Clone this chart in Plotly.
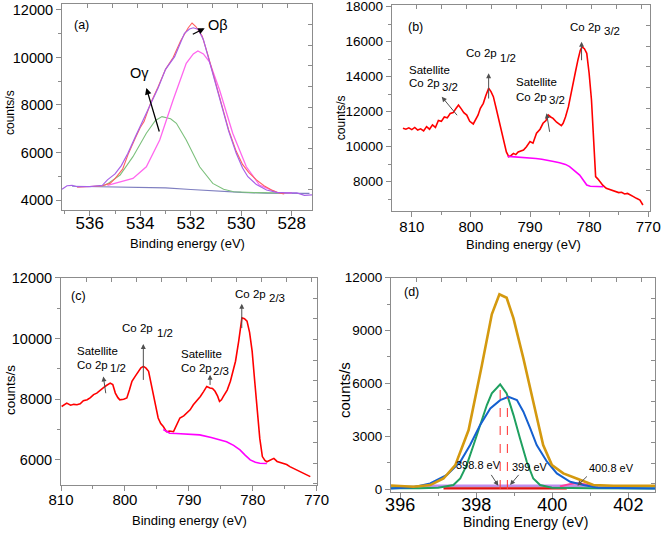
import plotly.graph_objects as go

# ---------------- Panel (a): O 1s ----------------
a_raw_be = [536.5, 536.2, 535.8, 535.5, 535.2, 535.0, 534.7, 534.49, 534.2, 534.0, 533.85, 533.6, 533.3, 533.0,
            532.7, 532.4, 532.1, 531.95, 531.8, 531.55, 531.32, 531.05, 530.8, 530.5, 530.2, 529.95, 529.7,
            529.4, 529.1, 528.8, 528.5, 528.3]
a_raw_cps = [4540, 4560, 4570, 4600, 4700, 4900, 5300, 5900, 6600, 7050, 7300, 8050, 8750, 9500,
             10000, 10700, 11250, 11450, 11300, 10900, 10100, 9050, 8050, 6950, 6050, 5500, 5150,
             4850, 4600, 4420, 4300, 4260]
a_env_be = [537.1, 536.9, 536.7, 536.5, 536.0, 535.5, 535.3, 535.0, 534.75, 534.49, 534.2, 533.9, 533.6, 533.3,
            533.0, 532.64, 532.25, 532.05, 531.9, 531.7, 531.5, 531.32, 531.05, 530.8, 530.5, 530.2, 529.95,
            529.74, 529.4, 529.0, 528.6, 528.2, 527.8, 527.5, 527.2]
a_env_cps = [4450, 4600, 4620, 4560, 4560, 4620, 4850, 5100, 5450, 5965, 6650, 7330, 8000, 8700,
             9500, 10035, 11017, 11200, 11250, 11180, 10750, 10035, 9000, 8000, 6900, 5965, 5350,
             4982, 4650, 4420, 4320, 4300, 4300, 4200, 4220]
a_og_be = [535.5, 535.3, 534.8, 534.29, 533.76, 533.4, 533.14, 532.8, 532.57, 532.18, 531.65, 531.13, 530.7,
           530.3, 529.5, 528.0]
a_og_cps = [4590, 4680, 5050, 5825, 6810, 7350, 7510, 7420, 7230, 6526, 5400, 4700, 4450,
            4350, 4310, 4290]
a_ob_be = [535.3, 534.8, 534.29, 533.76, 533.23, 532.7, 532.18, 531.9, 531.72, 531.5, 531.26, 530.86, 530.34,
           529.8, 529.28, 528.6, 528.0]
a_ob_cps = [4620, 4750, 4910, 5400, 6526, 8210, 9750, 10150, 10270, 10150, 9820, 8630, 6810,
            5400, 4630, 4320, 4290]
a_bg_be = [536.7, 536.0, 535.0, 534.0, 533.0, 532.0, 531.0, 530.0, 529.0, 528.0, 527.3]
a_bg_cps = [4580, 4570, 4560, 4540, 4510, 4440, 4370, 4320, 4290, 4280, 4280]

# ---------------- Panel (b): Co 2p ----------------
b_be = [811.5, 811.0, 810.5, 810.0, 809.5, 809.0, 808.5, 808.0, 807.5, 807.0, 806.5, 806.0, 805.5, 805.0,
        804.5, 804.0, 803.5, 803.0, 802.5, 802.1, 801.6, 801.2, 800.7, 800.2, 799.6, 799.2, 798.8, 798.4,
        797.9, 797.5, 797.0, 796.6, 796.2, 795.8, 795.4, 795.0, 794.5, 794.0, 793.6, 793.2, 792.8, 792.4,
        792.0, 791.5, 791.1, 790.6, 790.0, 789.5, 788.9, 788.3, 787.8, 787.3, 786.9, 786.5, 786.1, 785.5,
        785.0, 784.7, 784.4, 784.0, 783.5, 783.1, 782.7, 782.3, 781.9, 781.5, 781.2, 780.8, 780.4, 780.0,
        779.6, 779.2, 778.9, 778.5, 778.2, 777.7, 777.1, 776.5, 776.0, 775.4, 775.0, 774.5, 774.0, 773.5,
        773.1, 772.5, 772.0, 771.4, 770.9]
b_cps = [11050, 11000, 11080, 10980, 11100, 10950, 11020, 10900, 11150, 11000, 11250, 11100, 11500, 11450,
         11700, 11650, 11900, 11950, 12200, 12380, 12150, 11950, 11810, 11450, 11300, 11550, 11800, 12200,
         12480, 12900, 13340, 13150, 12860, 12300, 11710, 11100, 10380, 9700, 9430, 9500, 9620, 9550,
         9700, 9750, 9810, 10000, 10290, 10200, 10770, 11000, 11340, 11500, 11810, 11700, 11620, 11400,
         11240, 11200, 11340, 11700, 12290, 12900, 13620, 14300, 14950, 15500, 15710, 15600, 15340, 14200,
         12670, 10500, 8290, 8150, 8000, 7800, 7620, 7550, 7480, 7430, 7380, 7400, 7300, 7330,
         7240, 7150, 7050, 6950, 6670]
b_bg_be = [793.8, 793.0, 792.0, 791.0, 790.0, 789.0, 788.0, 787.2, 786.0, 785.0, 784.0, 783.3, 782.5, 781.6,
           781.0, 780.4, 779.8, 779.0, 778.0, 777.6]
b_bg_cps = [9450, 9430, 9420, 9400, 9370, 9330, 9280, 9240, 9160, 9080, 8990, 8860, 8650, 8380,
            8100, 7810, 7740, 7720, 7720, 7710]

# ---------------- Panel (c): Co 2p ----------------
c_be = [809.9, 809.5, 809.1, 808.5, 808.0, 807.5, 807.0, 806.5, 805.9, 805.4, 804.9, 804.4, 803.9, 803.4,
        802.9, 802.3, 801.9, 801.5, 801.1, 800.8, 800.2, 799.7, 799.3, 798.9, 798.4, 797.9, 797.5, 797.1,
        796.7, 796.3, 795.9, 795.5, 795.1, 794.8, 794.4, 794.0, 793.5, 793.0, 792.4, 791.9, 791.4, 790.8,
        790.3, 789.8, 789.3, 788.7, 788.2, 787.7, 787.2, 786.7, 786.3, 785.9, 785.5, 785.2, 784.9, 784.6,
        784.0, 783.5, 783.1, 782.7, 782.2, 781.9, 781.7, 781.3, 780.9, 780.5, 780.1, 779.7, 779.3, 778.9,
        778.5, 778.1, 777.8, 777.3, 776.7, 776.2, 775.7, 775.2, 774.7, 774.2, 773.7, 773.2, 772.6, 772.1,
        771.5, 771.0]
c_cps = [7760, 7820, 7870, 7800, 7830, 7815, 7850, 7950, 7980, 8050, 8150, 8200, 8300, 8370,
         8450, 8530, 8480, 8200, 8050, 7980, 8000, 8040, 8300, 8590, 8750, 8920, 9030, 9080,
         9020, 8920, 8500, 8040, 7700, 7380, 7200, 7100, 6930, 6950, 6930, 7150, 7380, 7450,
         7540, 7650, 7815, 7950, 8090, 8250, 8420, 8370, 8350, 8260, 8100, 7925, 7980, 8090,
         8300, 8590, 8900, 9250, 9910, 10400, 10680, 10650, 10570, 10200, 9580, 8600, 7490, 6700,
         6110, 5980, 5940, 6000, 6050, 5950, 5920, 5890, 5850, 5780, 5730, 5680, 5600, 5560,
         5500, 5450]
c_bg_be = [794.0, 793.0, 792.0, 790.0, 788.3, 786.5, 785.0, 784.1, 783.0, 782.0, 781.2, 780.4, 779.6, 778.9,
           777.8]
c_bg_cps = [7000, 6880, 6870, 6850, 6825, 6740, 6660, 6600, 6480, 6330, 6160, 6000, 5920, 5890,
            5880]

# ---------------- Panel (d): N 1s ----------------
d_env_be = [395.76, 396.35, 396.79, 397.14, 397.45, 397.80, 398.15, 398.41, 398.61, 398.80, 398.98, 399.24,
            399.50, 399.76, 399.99, 400.29, 400.64, 401.08, 401.61, 402.7]
d_env_cps = [200, 130, 227, 600, 1360, 3350, 7040, 9920, 11060, 10860, 9690, 7420,
             4960, 2500, 1360, 890, 600, 227, 190, 190]
d_g_be = [395.76, 396.5, 397.0, 397.4, 397.58, 397.75, 397.93, 398.10, 398.28, 398.41, 398.63, 398.80,
          398.98, 399.15, 399.33, 399.50, 399.68, 399.99, 401.0, 402.7]
d_g_cps = [50, 40, 80, 230, 600, 1360, 2500, 3630, 4770, 5435, 5945, 5435,
           4200, 2880, 1550, 600, 230, 80, 40, 30]
d_b_be = [395.76, 396.35, 396.79, 397.23, 397.58, 397.84, 398.10, 398.37, 398.63, 398.85, 399.07, 399.24,
          399.42, 399.59, 399.86, 400.12, 400.47, 400.82, 401.2, 402.7]
d_b_cps = [30, 100, 320, 800, 1550, 2500, 3630, 4580, 5050, 5240, 5050, 4390,
           3450, 2500, 1550, 890, 415, 230, 80, 30]
d_lav_be = [396.6, 401.17]
d_lav_cps = [200, 200]
d_red_be = [397.14, 400.38]
d_red_cps = [40, 40]
d_pk_be = [400.2, 400.45, 400.65, 400.85, 401.07]
d_pk_cps = [150, 280, 330, 280, 150]
d_gray_be = [395.76, 402.7]
d_gray_cps = [150, 150]
d_peak_be = [398.63, 398.82]
d_peak_cps = [5945, 5240]

W, H = 661, 535
FONT = "Liberation Sans, Arial, sans-serif"
AX = "#8c8c8c"

fig = go.Figure()

def add(x, y, n, color, width=1.0, dash=None):
    fig.add_trace(go.Scatter(x=x, y=y, mode="lines", xaxis="x" + ("" if n == 1 else str(n)),
                             yaxis="y" + ("" if n == 1 else str(n)),
                             line=dict(color=color, width=width, dash=dash),
                             showlegend=False, hoverinfo="skip"))

# (a)
add(a_bg_be, a_bg_cps, 1, "#7f7fc0", 1.1)
add(a_og_be, a_og_cps, 1, "#7cc07c", 1.1)
add(a_ob_be, a_ob_cps, 1, "#ff66ee", 1.3)
add(a_raw_be, a_raw_cps, 1, "#ff6060", 1.1)
add(a_env_be, a_env_cps, 1, "#a860e8", 1.2)
# (b)
add(b_be, b_cps, 2, "#ff0000", 1.6)
add(b_bg_be, b_bg_cps, 2, "#ff00ff", 1.6)
# (c)
add(c_be, c_cps, 3, "#ff0000", 1.6)
add(c_bg_be, c_bg_cps, 3, "#ff00ff", 1.6)
# (d)
add(d_gray_be, d_gray_cps, 4, "#a0a0a0", 2)
add(d_lav_be, d_lav_cps, 4, "#c08cf0", 2.2)
add(d_red_be, d_red_cps, 4, "#e01010", 2.2)
add(d_pk_be, d_pk_cps, 4, "#ff3c9a", 2)
add(d_g_be, d_g_cps, 4, "#1fa060", 2)
add(d_b_be, d_b_cps, 4, "#1560d0", 2)
add(d_env_be, d_env_cps, 4, "#d4990f", 2.6)
for xb, yt in zip(d_peak_be, d_peak_cps):
    add([xb, xb], [0, yt], 4, "#ff4040", 1.1, "dash")

panels = [
    dict(px=(62, 312), py=(4, 210), xr=[537.1, 527.2], yr=[3580, 12250], xd=2, xm=1, yd=2000, ym=1000,
         xf=17, yf=14.5, so=-7),
    dict(px=(391.7, 650), py=(5, 210.7), xr=[813.4, 769.7], yr=[6343, 18100], xd=10, xm=5, yd=2000, ym=1000,
         xf=15, yf=13.5, so=-3),
    dict(px=(61, 316.7), py=(277.7, 485), xr=[810, 770], yr=[5174, 12000], xd=10, xm=5, yd=2000, ym=1000,
         xf=15, yf=14.5, so=-4),
    dict(px=(391, 655), py=(277.7, 491.7), xr=[395.76, 402.7], yr=[-150, 12000], xd=2, xm=1, yd=3000, ym=1500,
         xf=18, yf=13.5, so=-8),
]

layout = dict(width=W, height=H, margin=dict(l=0, r=0, t=0, b=0, autoexpand=False), paper_bgcolor="white",
              plot_bgcolor="white", font=dict(family=FONT, color="black"))
for i, p in enumerate(panels, start=1):
    s = "" if i == 1 else str(i)
    dom_x = [p["px"][0] / W, p["px"][1] / W]
    dom_y = [1 - p["py"][1] / H, 1 - p["py"][0] / H]
    common = dict(showline=True, linecolor=AX, linewidth=1, mirror=True, ticks="outside", ticklen=5,
                  tickcolor=AX, showgrid=False, zeroline=False, tickformat="d", automargin=False,
                  ticklabeloverflow="allow")
    layout["xaxis" + s] = dict(domain=dom_x, anchor="y" + s, range=p["xr"], dtick=p["xd"],
                               minor=dict(dtick=p["xm"], ticks="outside", ticklen=3, tickcolor=AX),
                               tickfont=dict(size=p["xf"]), ticklabelstandoff=p["so"], **common)
    layout["yaxis" + s] = dict(domain=dom_y, anchor="x" + s, range=p["yr"], dtick=p["yd"],
                               minor=dict(dtick=p["ym"], ticks="outside", ticklen=3, tickcolor=AX),
                               tickfont=dict(size=p["yf"]), **common)
    # opposite (top / right) inward ticks
    j = str(i + 4)
    wpx = p["px"][1] - p["px"][0]
    hpx = p["py"][1] - p["py"][0]
    layout["xaxis" + j] = dict(overlaying="x" + s, side="top", anchor="y" + j, range=[0, wpx], tick0=0,
                               dtick=25, ticks="inside", ticklen=4, tickcolor=AX, tickwidth=1,
                               showticklabels=False,
                               showline=False, showgrid=False, zeroline=False, automargin=False)
    layout["yaxis" + j] = dict(overlaying="y" + s, side="right", anchor="x" + j, range=[hpx, 0], tick0=0,
                               dtick=20.6, ticks="inside", ticklen=4, tickcolor=AX, tickwidth=1,
                               showticklabels=False,
                               showline=False, showgrid=False, zeroline=False, automargin=False)
    fig.add_trace(go.Scatter(x=[None], y=[None], mode="lines", xaxis="x" + j, yaxis="y" + j,
                             showlegend=False, hoverinfo="skip"))

fig.update_layout(**layout)

ann = []

def txt(x, y, t, n, size=11.5, xanchor="left"):
    s = "" if n == 1 else str(n)
    ann.append(dict(x=x, y=y, xref="x" + s, yref="y" + s, text=t, showarrow=False, xanchor=xanchor,
                    yanchor="middle", font=dict(size=size, family=FONT, color="black")))

def arr(hx, hy, tx, ty, n, color="#505050", head=2, size=1.0, width=1.0):
    s = "" if n == 1 else str(n)
    ann.append(dict(x=hx, y=hy, ax=tx, ay=ty, xref="x" + s, yref="y" + s, axref="x" + s, ayref="y" + s,
                    text="", showarrow=True, arrowhead=head, arrowsize=size, arrowwidth=width,
                    arrowcolor=color))

def ptxt(xp, yp, t, size=13, angle=0):
    ann.append(dict(x=xp / W, y=1 - yp / H, xref="paper", yref="paper", text=t, showarrow=False,
                    xanchor="center", yanchor="middle", textangle=angle,
                    font=dict(size=size, family=FONT, color="black")))

# (a)
txt(536.33, 11368, "(a)", 1, 12.5, "center")
txt(534.02, 9347, "Oγ", 1, 14.5, "center")
txt(530.94, 11368, "Oβ", 1, 14.5, "center")
arr(533.76, 8716, 533.23, 6821, 1, "black", 2, 1.0, 1.3)
arr(531.45, 11229, 531.98, 10947, 1, "black", 2, 1.0, 1.3)
# (b)
txt(809.44, 16857, "(b)", 2, 12.5, "center")
txt(810.84, 14383, "Satellite", 2)
txt(810.84, 13657, "Co 2p", 2)
txt(805.22, 13394, "3/2", 2)
arr(804.93, 12857, 802.13, 11714, 2)
txt(801.17, 15337, "Co 2p", 2)
txt(795.37, 15051, "1/2", 2)
arr(797.0, 14194, 797.0, 12669, 2)
txt(792.72, 13714, "Satellite", 2)
txt(792.72, 12857, "Co 2p", 2)
txt(787.1, 12669, "3/2", 2)
arr(787.2, 11909, 786.64, 10766, 2)
txt(783.55, 16857, "Co 2p", 2)
txt(777.9, 16629, "3/2", 2)
arr(781.28, 16000, 781.28, 14857, 2)
# (c)
txt(807.29, 11392, "(c)", 3, 12.5, "center")
txt(807.81, 9576, "Satellite", 3)
txt(807.81, 9137, "Co 2p", 3)
txt(802.6, 9028, "1/2", 3)
arr(803.38, 8750, 802.96, 8146, 3)
txt(800.77, 10349, "Co 2p", 3)
txt(795.29, 10184, "1/2", 3)
arr(797.12, 9820, 797.12, 8585, 3)
txt(791.49, 9490, "Satellite", 3)
txt(791.49, 9028, "Co 2p", 3)
txt(786.57, 8915, "2/3", 3)
arr(786.68, 8807, 786.68, 8420, 3)
txt(783.04, 11448, "Co 2p", 3)
txt(777.72, 11339, "2/3", 3)
arr(781.72, 11141, 781.72, 10293, 3)
# (d)
txt(396.31, 11210, "(d)", 4, 12.5, "center")
txt(398.06, 1363, "398.8 eV", 4, 11, "center")
arr(398.58, 187, 398.37, 890, 4)
txt(399.42, 1270, "399 eV", 4, 11, "center")
arr(398.89, 227, 399.15, 890, 4)
txt(401.56, 1170, "400.8 eV", 4, 11, "center")
arr(400.66, 187, 400.95, 800, 4)

# axis titles
ptxt(187.5, 244, "Binding energy (eV)", 13)
ptxt(10, 113, "counts/s", 12, -90)
ptxt(523.3, 245, "Binding energy (eV)", 13)
ptxt(341.7, 117.5, "counts/s", 12, -90)
ptxt(189, 520, "Binding energy (eV)", 13)
ptxt(10, 390, "counts/s", 13.4, -90)
ptxt(525.8, 522, "Binding Energy (eV)", 14)
ptxt(344, 390, "counts/s", 15, -90)

fig.update_layout(annotations=ann)
fig.write_html("out.html", config={"displayModeBar": False},
               post_script="document.body.style.margin='0';document.body.style.overflow='hidden';")
